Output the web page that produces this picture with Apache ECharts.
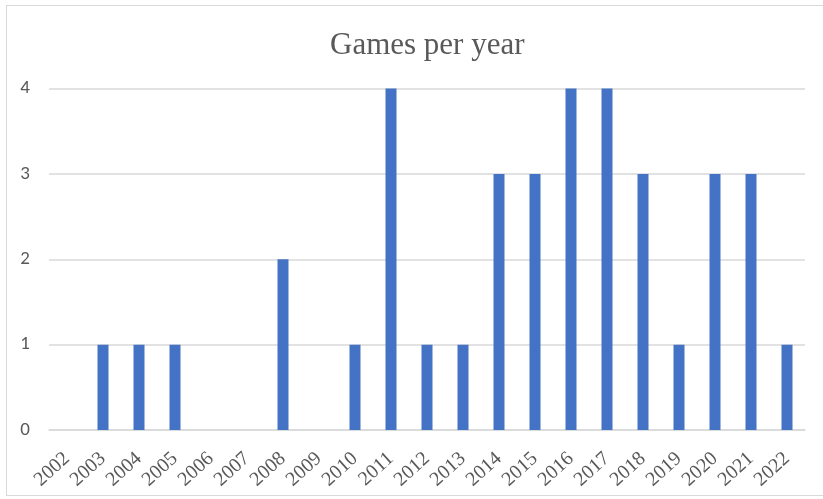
<!DOCTYPE html>
<html>
<head>
<meta charset="utf-8">
<script src="https://cdn.jsdelivr.net/npm/echarts@6/dist/echarts.min.js"></script>
<style>
html,body{margin:0;padding:0;background:#fff;}
#frame{position:absolute;left:6px;top:5px;width:830px;height:491px;border:1.5px solid #d9d9d9;box-sizing:border-box;}
#chart{position:absolute;left:0;top:0;width:823px;height:499px;}
</style>
</head>
<body>
<div id="frame"></div>
<div id="chart"></div>
<script>
const years = ['2002','2003','2004','2005','2006','2007','2008','2009','2010','2011','2012','2013','2014','2015','2016','2017','2018','2019','2020','2021','2022'];
const games = [0,1,1,1,0,0,2,0,1,4,1,1,3,3,4,4,3,1,3,3,1];
const yTicks = [0,1,2,3,4];

const chart = echarts.init(document.getElementById('chart'), null, {renderer:'canvas'});
chart.setOption({
  animation:false,
  title:{
    text:'Games per year',
    left:325,
    top:25,
    textStyle:{fontFamily:'Liberation Serif',fontSize:31,fontWeight:'normal',color:'#595959'}
  },
  grid:{left:49,right:18,top:88.5,bottom:69,containLabel:false},
  xAxis:{
    type:'category',
    data:years,
    axisLine:{lineStyle:{color:'#d9d9d9',width:1.5}},
    axisTick:{show:false},
    axisLabel:{rotate:42,interval:0,margin:26,fontFamily:'Liberation Serif',fontSize:20,color:'#595959'}
  },
  yAxis:{
    type:'value',
    min:yTicks[0],
    max:yTicks[yTicks.length-1],
    interval:1,
    axisLine:{show:false},
    axisTick:{show:false},
    splitLine:{lineStyle:{color:'#d9d9d9',width:1.5}},
    axisLabel:{margin:19,fontFamily:'Carlito, Liberation Sans',fontSize:19,color:'#595959'}
  },
  series:[{
    type:'bar',
    data:games,
    barWidth:11,
    itemStyle:{color:'#4472C4'}
  }]
});
</script>
</body>
</html>
